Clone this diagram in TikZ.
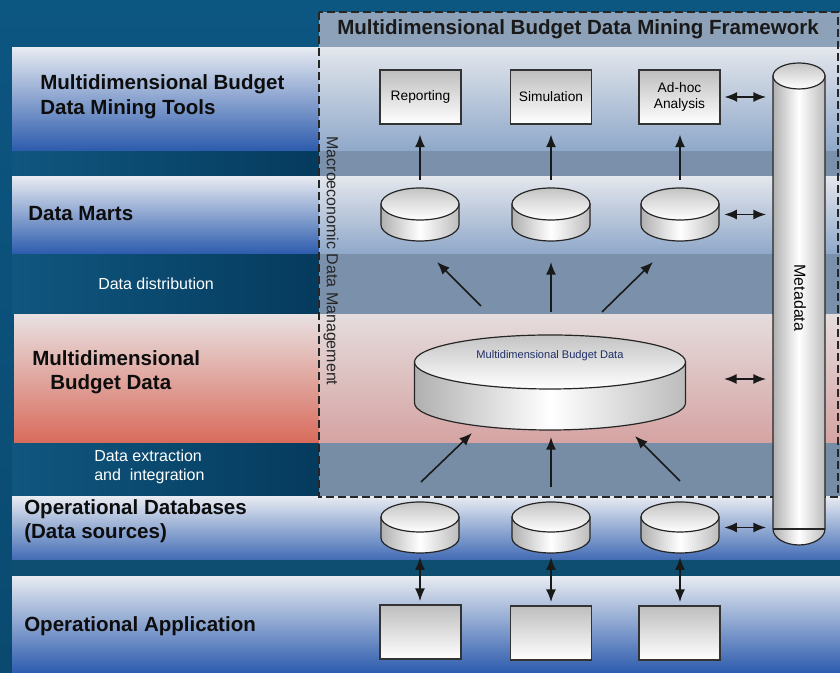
\documentclass[tikz,border=0pt]{standalone}
\usepackage{fontspec}
\setmainfont{Liberation Sans}
\usetikzlibrary{arrows.meta}
\definecolor{bgtop}{HTML}{0C5682}
\definecolor{bgbot}{HTML}{0A4A70}
\definecolor{gapl}{HTML}{10567F}
\definecolor{gapr}{HTML}{053B5D}
\definecolor{bandt}{HTML}{E6EAF1}
\definecolor{bandm}{HTML}{ABBDD8}
\definecolor{bandb}{HTML}{2C5BAD}
\definecolor{pinkt}{HTML}{E8E0E1}
\definecolor{pinkm}{HTML}{DEB8B5}
\definecolor{pinkb}{HTML}{D86B5B}
\definecolor{fbt}{HTML}{E3E6EC}
\definecolor{fbm}{HTML}{C6D0DF}
\definecolor{fbb}{HTML}{8FA8C9}
\definecolor{fpt}{HTML}{E5DCDD}
\definecolor{fpm}{HTML}{DFC7C8}
\definecolor{fpb}{HTML}{D5A3A2}
\definecolor{fgap}{HTML}{7B91AB}
\definecolor{tbar}{HTML}{8DA1B8}
\definecolor{gap4}{HTML}{0E4E71}
\definecolor{boxg}{HTML}{BEBEBE}
\definecolor{cylg}{HTML}{B0B0B0}
\definecolor{navy}{HTML}{1F2F66}
\newcommand{\mycyl}[6]{%
  \pgfmathsetmacro\cylW{2*#5*0.75}%
  \pgfmathsetmacro\cylH{(#3-#4+2*#6)*0.75}%
  \pgfmathsetmacro\cylM{(#3+#4)/2}%
  \node[inner sep=0pt, minimum width=\cylW pt, minimum height=\cylH pt] (#1) at (#2,\cylM) {};
  \shade[cyl, left color=cylg, right color=cylg!85, middle color=white]
    (#2-#5,#3) -- (#2-#5,#4) arc[start angle=180, end angle=360, x radius=#5, y radius=#6] -- (#2+#5,#3) -- cycle;
  \shade[cyl, top color=cylg!75, bottom color=white] (#2,#3) ellipse[x radius=#5, y radius=#6];
}
\begin{document}
\begin{tikzpicture}[x=0.75pt,y=0.75pt,
  lbl/.style={font=\fontsize{15.4}{18}\selectfont\bfseries, anchor=base west, inner sep=0pt, text=black!95},
  wlbl/.style={font=\fontsize{12}{14}\selectfont, anchor=base west, inner sep=0pt, text=white},
  tbox/.style={draw=black!80, line width=0.8pt, top color=boxg, bottom color=white, minimum width=60.75pt, minimum height=40.5pt, inner sep=1pt, align=center, font=\fontsize{10.3}{12}\selectfont},
  arr/.style={-{Latex[length=9.5pt,width=7.5pt]}, line width=1.2pt, draw=black!90},
  dbl/.style={{Latex[length=9.5pt,width=7.5pt]}-{Latex[length=9.5pt,width=7.5pt]}, line width=1.2pt, draw=black!90},
  cyl/.style={draw=black!85, line width=0.9pt}]
\useasboundingbox (0,0) rectangle (840,673);
% background
\shade[top color=bgtop, bottom color=bgbot] (0,0) rectangle (840,673);
% left gaps
\shade[left color=gapl, right color=gapr] (12,496) rectangle (319,522);
\shade[left color=gapl, right color=gapr] (12,358) rectangle (319,419);
\shade[left color=gapl, right color=gapr] (12,176) rectangle (319,230);
% left bands
\shade[top color=bandt, middle color=bandm, bottom color=bandb] (12,522) rectangle (319,625);
\shade[top color=bandt, middle color=bandm, bottom color=bandb] (12,419) rectangle (319,496);
\shade[top color=pinkt, middle color=pinkm, bottom color=pinkb] (14,230) rectangle (319,358);
% framework interior
\fill[tbar] (319,626) rectangle (840,661);
\draw[black!60, line width=0.6pt] (319,626) -- (838,626);
\shade[top color=fbt, middle color=fbm, bottom color=fbb] (319,522) rectangle (840,625);
\fill[fgap] (319,496) rectangle (840,522);
\shade[top color=fbt, middle color=fbm, bottom color=fbb] (319,419) rectangle (840,496);
\fill[fgap] (319,358) rectangle (840,419);
\shade[top color=fpt, middle color=fpm, bottom color=fpb] (319,230) rectangle (840,358);
\fill[fgap!97!black] (319,176) rectangle (840,230);
% lower bands
\shade[top color=bandt, middle color=bandm, bottom color=bandb!90!white] (12,113) rectangle (840,176);
\fill[gap4] (12,96) rectangle (840,113);
\shade[top color=bandt, middle color=bandm, bottom color=bandb] (12,0) rectangle (840,96);
% framework dashed border
\draw[black!85, line width=1.1pt, dash pattern=on 6pt off 3pt] (319,661) rectangle (838,176);
% titles
\node[font=\fontsize{15.4}{18}\selectfont\bfseries, anchor=base, inner sep=0pt, text=black!90] (title) at (578,638) {Multidimensional Budget Data Mining Framework};
\node[rotate=-90, font=\fontsize{12}{14}\selectfont, text=black!85, inner sep=0pt] (macro) at (331,412) {Macroeconomic Data Management};
% left labels
\node[lbl] (l1a) at (40,583) {Multidimensional Budget};
\node[lbl] (l1b) at (40,558) {Data Mining Tools};
\node[lbl] (l2) at (28,452) {Data Marts};
\node[wlbl] (l2w) at (98,383) {Data distribution};
\node[lbl] (l3a) at (32,307) {Multidimensional};
\node[lbl] (l3b) at (50,283) {Budget Data};
\node[wlbl] (l3w) at (94,211) {Data extraction};
\node[wlbl] (l3w2) at (94,192) {and\ \ integration};
\node[lbl] (l4a) at (24,158) {Operational Databases};
\node[lbl] (l4b) at (24,134) {(Data sources)};
\node[lbl] (l5) at (24,41) {Operational Application};
% tool boxes
\node[tbox] (rep) at (420.5,576) {Reporting};
\node[tbox] (sim) at (551,576) {Simulation};
\node[tbox] (adh) at (679.5,576) {Ad-hoc\\Analysis};
% application boxes
\node[tbox] (app1) at (420.5,41) {};
\node[tbox] (app2) at (551,40) {};
\node[tbox] (app3) at (679.5,40) {};
% cylinders
\mycyl{dm1}{420}{469}{448}{39}{16}
\mycyl{dm2}{551}{469}{448}{39}{16}
\mycyl{dm3}{680}{469}{448}{39}{16}
\mycyl{odb1}{420}{156}{135}{39}{15}
\mycyl{odb2}{551}{156}{135}{39}{15}
\mycyl{odb3}{680}{156}{135}{39}{15}
\mycyl{mbd}{550}{311}{270}{135.5}{27}
\node[font=\fontsize{8.3}{10}\selectfont, text=navy, inner sep=0pt] (mbdl) at (550,317) {Multidimensional Budget Data};
% metadata
\node[inner sep=0pt, minimum width=39pt, minimum height=361.5pt] (meta) at (799,369) {};
\shade[cyl, left color=cylg, right color=cylg!85, middle color=white] (773,597) -- (773,144) arc[start angle=180, end angle=360, x radius=26, y radius=16] -- (825,597) -- cycle;
\draw[cyl] (773,144) -- (825,144);
\shade[cyl, top color=cylg!75, bottom color=white] (799,597) ellipse[x radius=26, y radius=13];
\node[rotate=-90, font=\fontsize{12}{14}\selectfont, inner sep=0pt] (metal) at (800,375) {Metadata};
% arrows data marts -> tools
\draw[arr, shorten <=6pt, shorten >=7.5pt] (dm1.north) -- (dm1.north |- rep.south);
\draw[arr, shorten <=6pt, shorten >=7.5pt] (dm2.north) -- (dm2.north |- sim.south);
\draw[arr, shorten <=6pt, shorten >=7.5pt] (dm3.north) -- (dm3.north |- adh.south);
% arrows MBD -> data marts
\coordinate (a1) at (481,367); \coordinate (b1) at (437,411);
\coordinate (a2) at (551,361); \coordinate (b2) at (551,411);
\coordinate (a3) at (602,361); \coordinate (b3) at (653,411);
\draw[arr] (a1) -- (b1);
\draw[arr] (a2) -- (b2);
\draw[arr] (a3) -- (b3);
% arrows op DB -> MBD
\coordinate (c1) at (421,191); \coordinate (d1) at (472,240);
\coordinate (c2) at (551,186); \coordinate (d2) at (551,236);
\coordinate (c3) at (680,192); \coordinate (d3) at (635,237);
\draw[arr] (c1) -- (d1);
\draw[arr] (c2) -- (d2);
\draw[arr] (c3) -- (d3);
% op DB <-> applications
\draw[dbl, shorten <=3pt, shorten >=2.5pt] (odb1.south) -- (odb1.south |- app1.north);
\draw[dbl, shorten <=3pt, shorten >=2.5pt] (odb2.south) -- (odb2.south |- app2.north);
\draw[dbl, shorten <=3pt, shorten >=2.5pt] (odb3.south) -- (odb3.south |- app3.north);
% metadata links
\draw[dbl, shorten <=3pt, shorten >=5pt] (adh.east) -- (adh.east -| meta.west);
\draw[dbl, shorten <=3.75pt, shorten >=5pt] (dm3.east) -- (dm3.east -| meta.west);
\coordinate (mm) at (724,294);
\draw[dbl, shorten >=5pt] (mm) -- (mm -| meta.west);
\draw[dbl, shorten <=3.75pt, shorten >=5pt] (odb3.east) -- (odb3.east -| meta.west);
\end{tikzpicture}
\end{document}
